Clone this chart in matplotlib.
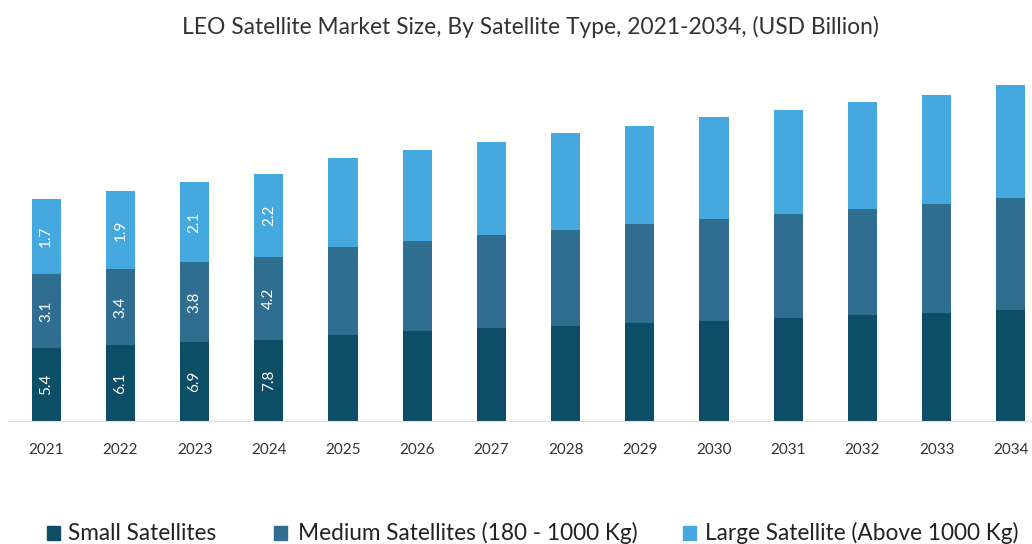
import matplotlib
matplotlib.use("Agg")
import matplotlib.pyplot as plt
from matplotlib.patches import Rectangle

plt.rcParams['font.family'] = ['Lato', 'DejaVu Sans']

years = ['2021', '2022', '2023', '2024', '2025', '2026', '2027',
         '2028', '2029', '2030', '2031', '2032', '2033', '2034']

# bar heights as drawn in the source chart (not to scale with the labels)
small = [7.3, 7.6, 7.9, 8.1, 8.6, 9.0, 9.3, 9.5, 9.8, 10.0, 10.3, 10.6, 10.8, 11.1]
medium = [7.4, 7.6, 8.0, 8.3, 8.8, 9.0, 9.3, 9.6, 9.9, 10.2, 10.4, 10.6, 10.9, 11.2]
large = [7.5, 7.8, 8.0, 8.3, 8.9, 9.1, 9.3, 9.7, 9.8, 10.2, 10.4, 10.7, 10.9, 11.3]

# value labels printed on the first bars
small_lbl = ['5.4', '6.1', '6.9', '7.8']
medium_lbl = ['3.1', '3.4', '3.8', '4.2']
large_lbl = ['1.7', '1.9', '2.1', '2.2']

series = ['Small Satellites', 'Medium Satellites (180 - 1000 Kg)',
          'Large Satellite (Above 1000 Kg)']
colors = ['#0b4e66', '#2f6e91', '#45a9df']

fig = plt.figure(figsize=(10.32, 5.44), dpi=100)
ax = fig.add_axes([0, 0.2261, 1, 0.6452])

x = list(range(len(years)))
bottom_med = small
bottom_large = [s + m for s, m in zip(small, medium)]

b1 = ax.bar(x, small, width=0.395, color=colors[0])
b2 = ax.bar(x, medium, width=0.395, bottom=bottom_med, color=colors[1])
b3 = ax.bar(x, large, width=0.395, bottom=bottom_large, color=colors[2])

for bars, lbls in [(b1, small_lbl), (b2, medium_lbl), (b3, large_lbl)]:
    for rect, t in zip(bars, lbls):
        cx = rect.get_x() + rect.get_width() / 2
        cy = rect.get_y() + rect.get_height() / 2
        ax.text(cx, cy, t, rotation=90, ha='center', va='center',
                color='white', fontsize=11)

ax.set_xlim(-0.623, 13.286)
ax.set_ylim(0, 35.1)
ax.set_xticks(x)
ax.set_xticklabels(years, fontsize=11, color='#333333')
ax.tick_params(axis='x', length=0, pad=16)
ax.set_yticks([])
for s in ['top', 'right', 'left']:
    ax.spines[s].set_visible(False)
ax.spines['bottom'].set_color('#dddddd')
ax.spines['bottom'].set_bounds(-0.5, 13.286)

fig.text(0.514, 0.950, 'LEO Satellite Market Size, By Satellite Type, 2021-2034, (USD Billion)',
         ha='center', va='center', fontsize=16.4, color='#333333')

# legend drawn by hand to match the source spacing
W, H = 1032.0, 544.0
sq_x = [47, 274, 683]
txt_x = [68, 298, 705]
for c, name, sx, tx in zip(colors, series, sq_x, txt_x):
    fig.patches.append(Rectangle((sx / W, 1 - 540 / H), 13 / W, 14 / H,
                                 transform=fig.transFigure, color=c))
    fig.text(tx / W, 1 - 533 / H, name, ha='left', va='center',
             fontsize=16.3, color='#222222')

fig.savefig('out.png', dpi=100)
